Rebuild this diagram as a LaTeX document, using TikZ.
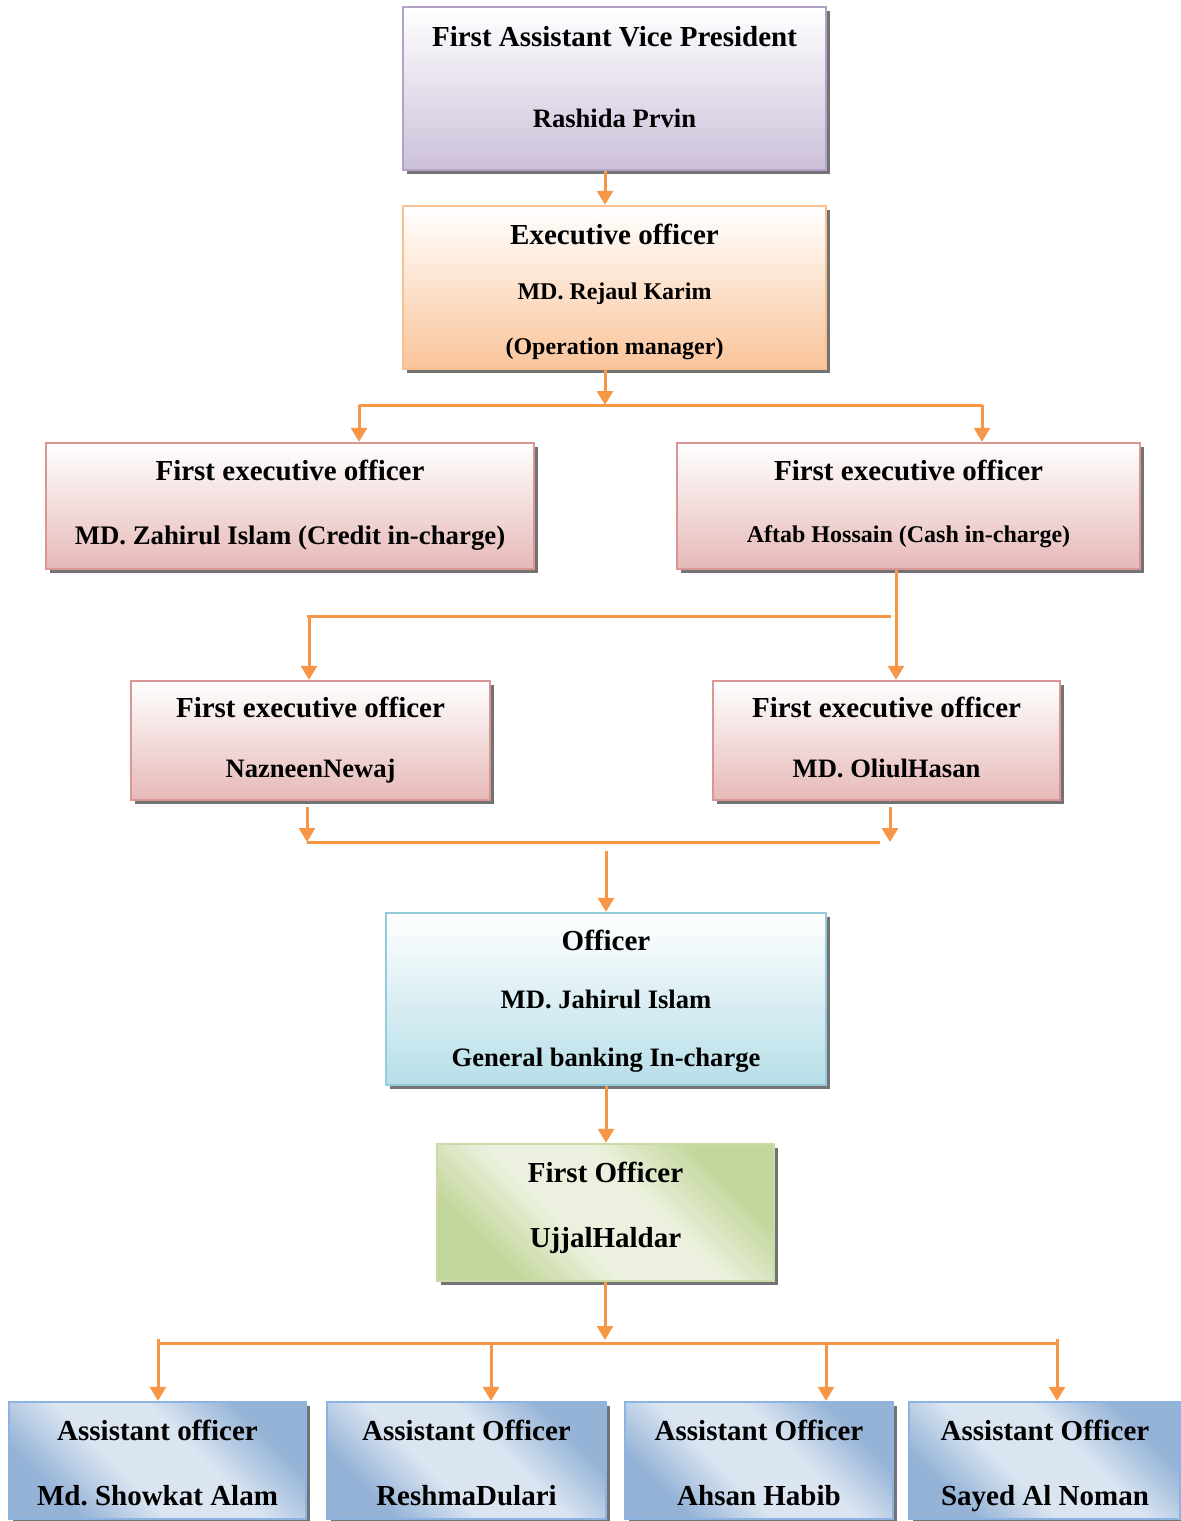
\documentclass[tikz,border=0pt]{standalone}
\usepackage{fontspec}
\setmainfont{Liberation Serif}
\frenchspacing
\usetikzlibrary{arrows.meta,fit,shadows}

% palette
\definecolor{lnk}{HTML}{F79646}
\definecolor{purB}{HTML}{B3A2C7}\definecolor{purF}{HTML}{CCC0DA}
\definecolor{orgB}{HTML}{FAC090}\definecolor{orgF}{HTML}{FAC49A}
\definecolor{pnkB}{HTML}{D99694}\definecolor{pnkF}{HTML}{E6B9B8}
\definecolor{cyaB}{HTML}{93CDDD}\definecolor{cyaF}{HTML}{B7DEE8}
\definecolor{grnB}{HTML}{C9DAA6}\definecolor{grnD}{HTML}{C3D69B}\definecolor{grnL}{HTML}{EBF1DE}
\definecolor{bluB}{HTML}{8DB3E2}\definecolor{bluD}{HTML}{95B3D7}\definecolor{bluL}{HTML}{DBE5F1}

% diagonal band shadings (dark corners, light middle)
\pgfdeclarehorizontalshading{greenband}{100bp}{color(0bp)=(grnD); color(27bp)=(grnD); color(42bp)=(grnL); color(58bp)=(grnL); color(73bp)=(grnD); color(100bp)=(grnD)}
\pgfdeclarehorizontalshading{blueband}{100bp}{color(0bp)=(bluD); color(27bp)=(bluD); color(42bp)=(bluL); color(58bp)=(bluL); color(73bp)=(bluD); color(100bp)=(bluD)}

\tikzset{
  box/.style={draw, line width=1.2pt, inner sep=0pt,
    drop shadow={shadow xshift=2pt, shadow yshift=-2pt, fill=black!55, opacity=1}},
  vbox/.style 2 args={box, draw=#1, top color=white, bottom color=#2},
  gbox/.style={box, draw=grnB, shading=greenband, shading angle=45},
  bbox/.style={box, draw=bluB, shading=blueband, shading angle=45},
  lbl/.style={anchor=base, inner sep=0pt, font=\bfseries\fontsize{#1}{#1}\selectfont},
  arr/.style={draw=lnk, line width=1.5pt, -{Triangle[width=8pt,length=7pt]}},
  ln/.style={draw=lnk, line width=1.5pt},
}

\begin{document}
\begin{tikzpicture}[x=0.5pt, y=-0.5pt]
\useasboundingbox (0,0) rectangle (1181,1521);

% ---- boxes ----
\node[vbox={purB}{purF}, fit={(403,7) (826,170)}] (vp) {};
\node[vbox={orgB}{orgF}, fit={(403,206) (826,369)}] (eo) {};
\node[vbox={pnkB}{pnkF}, fit={(46,443) (534,569)}] (fe1) {};
\node[vbox={pnkB}{pnkF}, fit={(677,443) (1140,569)}] (fe2) {};
\node[vbox={pnkB}{pnkF}, fit={(131,681) (490,800)}] (fe3) {};
\node[vbox={pnkB}{pnkF}, fit={(713,681) (1060,800)}] (fe4) {};
\node[vbox={cyaB}{cyaF}, fit={(386,913) (826,1085)}] (off) {};
\node[gbox, fit={(437,1144) (774,1281)}] (fo) {};
\node[bbox, fit={(9,1402) (306,1519)}] (a1) {};
\node[bbox, fit={(327,1402) (606,1519)}] (a2) {};
\node[bbox, fit={(625,1402) (893,1519)}] (a3) {};
\node[bbox, fit={(909,1402) (1180,1519)}] (a4) {};

% ---- labels ----
\node[lbl=14.5] (vp1) at (614.5,46.5) {First Assistant Vice President};
\node[lbl=13.3] (vp2) at (614.5,127) {Rashida Prvin};
\node[lbl=14.5] (eo1) at (614.5,244.5) {Executive officer};
\node[lbl=12]   (eo2) at (614.5,299) {MD. Rejaul Karim};
\node[lbl=12]   (eo3) at (614.5,354) {(Operation manager)};
\node[lbl=14.5] (fe1a) at (290,480.5) {First executive officer};
\node[lbl=13.4] (fe1b) at (290,544) {MD. Zahirul Islam (Credit in-charge)};
\node[lbl=14.5] (fe2a) at (908.5,480.5) {First executive officer};
\node[lbl=12]   (fe2b) at (908.5,542) {Aftab Hossain (Cash in-charge)};
\node[lbl=14.5] (fe3a) at (310.5,717.5) {First executive officer};
\node[lbl=13.3] (fe3b) at (310.5,777) {NazneenNewaj};
\node[lbl=14.5] (fe4a) at (886.5,717.5) {First executive officer};
\node[lbl=13.3] (fe4b) at (886.5,777) {MD. OliulHasan};
\node[lbl=14.5] (off1) at (606,950.5) {Officer};
\node[lbl=13.3] (off2) at (606,1008) {MD. Jahirul Islam};
\node[lbl=13.3] (off3) at (606,1066) {General banking In-charge};
\node[lbl=14.5] (fo1) at (605.5,1182.5) {First Officer};
\node[lbl=14.5] (fo2) at (605.5,1247.5) {UjjalHaldar};
\node[lbl=14.5] (a1a) at (157.5,1440.5) {Assistant officer};
\node[lbl=14.5] (a1b) at (157.5,1505.5) {Md. Showkat Alam};
\node[lbl=14.5] (a2a) at (466.5,1440.5) {Assistant Officer};
\node[lbl=14.5] (a2b) at (466.5,1505.5) {ReshmaDulari};
\node[lbl=14.5] (a3a) at (759,1440.5) {Assistant Officer};
\node[lbl=14.5] (a3b) at (759,1505.5) {Ahsan Habib};
\node[lbl=14.5] (a4a) at (1045,1440.5) {Assistant Officer};
\node[lbl=14.5] (a4b) at (1045,1505.5) {Sayed Al Noman};

% ---- connector guides ----
\coordinate (xa) at (605,0);
\coordinate (xb) at (896,0);
\coordinate (xc) at (307,0);
\coordinate (xd) at (890,0);
\coordinate (xe) at (606,0);
\coordinate (j1)  at (605,405);
\coordinate (j1L) at (359,405);
\coordinate (j1R) at (982,405);
\coordinate (j2L) at (307,616);
\coordinate (j2V) at (309,616);
\coordinate (j2R) at (891,616);
\coordinate (j3L) at (307,842);
\coordinate (j3R) at (880,842);
\coordinate (j3T) at (890,842);
\coordinate (j4)  at (606,851);
\coordinate (j5)  at (605,1340);
\coordinate (j5L) at (158,1343);
\coordinate (j5R) at (1057,1343);
\coordinate (k1) at (158,1339);
\coordinate (k2) at (491,1343);
\coordinate (k3) at (826,1343);
\coordinate (k4) at (1057,1339);

% ---- connectors ----
\draw[arr] (vp.south -| xa) -- (eo.north -| xa);
\draw[arr] (eo.south -| xa) -- (j1);
\draw[ln] (j1L) -- (j1R);
\draw[arr] (j1L) -- (fe1.north -| j1L);
\draw[arr] (j1R) -- (fe2.north -| j1R);

\draw[arr] (fe2.south -| xb) -- (fe4.north -| xb);
\draw[ln] (j2L) -- (j2R);
\draw[arr] (j2V) -- (fe3.north -| j2V);

\draw[arr, shorten <=3pt] (fe3.south -| xc) -- (j3L);
\draw[ln] (j3L) -- (j3R);
\draw[arr, shorten <=3pt] (fe4.south -| xd) -- (j3T);
\draw[arr] (j4) -- (off.north -| xe);

\draw[arr] (off.south -| xe) -- (fo.north -| xe);
\draw[arr] (fo.south -| xa) -- (j5);
\draw[ln] (j5L) -- (j5R);
\draw[arr] (k1) -- (a1.north -| k1);
\draw[arr] (k2) -- (a2.north -| k2);
\draw[arr] (k3) -- (a3.north -| k3);
\draw[arr] (k4) -- (a4.north -| k4);
\end{tikzpicture}
\end{document}
